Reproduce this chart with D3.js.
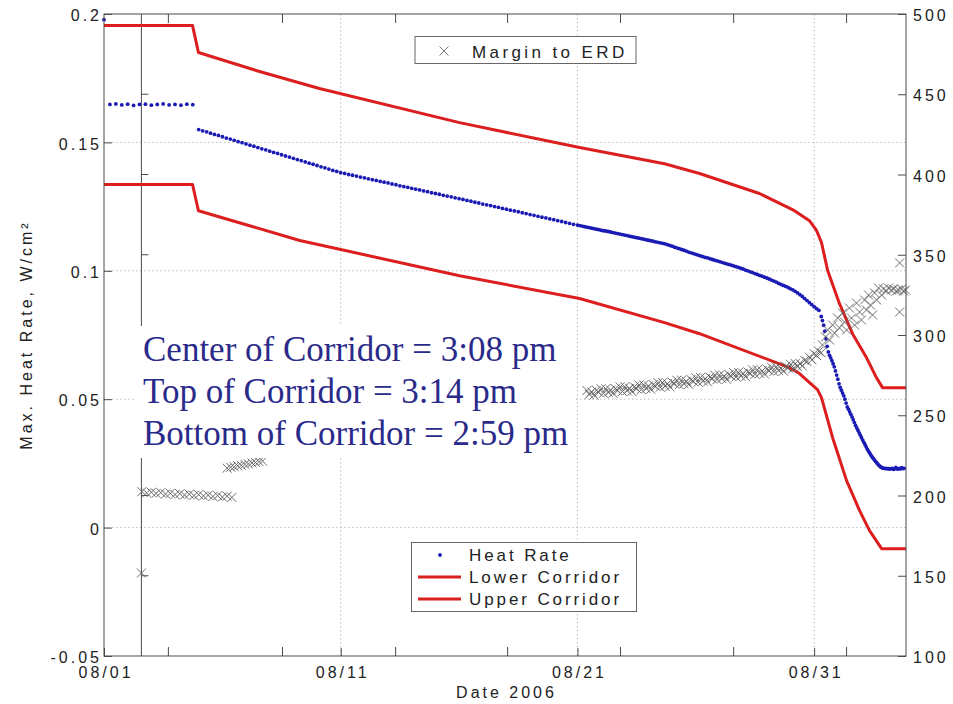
<!DOCTYPE html>
<html><head><meta charset="utf-8">
<script src="https://cdn.jsdelivr.net/npm/d3@7"></script>
<style>
body{margin:0;background:#fff}
svg{display:block}
text{font-family:"Liberation Sans",Arial,Helvetica,sans-serif}
</style>
</head><body>
<svg id="chart" width="953" height="704"></svg>
<script>
// ---------------- DATA ----------------
const dateTickDays = [0, 10, 20, 30];
const dateTickLabels = ["08/01", "08/11", "08/21", "08/31"];
const domainEndDay = 33.88;
const leftTicks = [-0.05, 0, 0.05, 0.1, 0.15, 0.2];
const leftTickLabels = ["-0.05", "0", "0.05", "0.1", "0.15", "0.2"];
const rightTicks = [100, 150, 200, 250, 300, 350, 400, 450, 500];
const erdTickDays = [2.72, 7.54, 12.32, 17.05, 21.82, 26.6, 31.37];
const erdAxisStartDay = 1.58;

// Heat rate (W/cm^2), sampled segments
const heatRateStartA = 0, heatRateStepA = 0.25;
const heatRateA = [0.1978,0.1648,0.1650,0.1646,0.1649,0.1644,0.1648,0.1649,0.1645,0.1648,0.1650,0.1646,0.1648,0.1645,0.1649,0.1647];
const heatRateStartB = 4.0, heatRateStepB = 1/6;
const heatRateB = [0.1550,0.1545,0.1541,0.1536,0.1531,0.1527,0.1522,0.1517,0.1513,0.1508,0.1503,0.1499,0.1494,0.1489,0.1485,0.1480,0.1475,0.1471,0.1466,0.1461,0.1457,0.1452,0.1447,0.1443,0.1438,0.1433,0.1429,0.1424,0.1419,0.1415,0.1410,0.1405,0.1401,0.1396,0.1391,0.1387,0.1382,
0.1379,0.1375,0.1372,0.1369,0.1365,0.1362,0.1358,0.1355,0.1352,0.1348,0.1345,0.1342,0.1338,0.1335,0.1331,0.1328,0.1325,0.1321,0.1318,0.1315,0.1311,0.1308,0.1304,0.1301,0.1298,0.1294,0.1291,0.1288,0.1284,0.1281,
0.1278,0.1274,0.1271,0.1267,0.1264,0.1260,0.1257,0.1254,0.1250,0.1247,0.1243,0.1240,0.1236,0.1233,0.1230,0.1226,0.1223,0.1219,0.1216,0.1212,0.1209,0.1206,0.1202,0.1199,0.1195,0.1192,0.1188,0.1185,0.1181,0.1178];
const heatRateStartC = 20.1, heatRateStepC = 0.1;
const heatRateC = [0.1176,0.1174,0.1172,0.1170,0.1168,0.1166,0.1164,0.1162,0.1160,0.1158,
0.1156,0.1155,0.1153,0.1151,0.1149,0.1147,0.1145,0.1143,0.1141,0.1139,
0.1137,0.1135,0.1133,0.1131,0.1129,0.1127,0.1125,0.1123,0.1121,0.1119,
0.1117,0.1115,0.1113,0.1111,0.1109,0.1107,0.1105,0.1102,0.1099,0.1096,
0.1092,0.1089,0.1086,0.1083,0.1080,0.1077,0.1073,0.1070,0.1067,0.1064,
0.1061,0.1058,0.1055,0.1052,0.1050,0.1047,0.1044,0.1041,0.1039,0.1036,
0.1033,0.1030,0.1027,0.1025,0.1022,0.1019,0.1016,0.1013,0.1010,0.1007,
0.1003,0.1000,0.0996,0.0993,0.0989,0.0986,0.0982,0.0979,0.0975,0.0972,
0.0968,0.0964,0.0960,0.0956,0.0951,0.0947,0.0943,0.0939,0.0935,0.0930,
0.0926,0.0920,0.0914,0.0907,0.0900,0.0892,0.0884,0.0876,0.0868,0.0860,
0.0853,0.0846];
const heatRateStartD = 30.3, heatRateStepD = 0.05;
const heatRateD = [0.0822,0.0806,0.0788,0.0765,0.0735,0.0706,0.0684,0.0671,0.0661,0.0650,
0.0638,0.0626,0.0610,0.0594,0.0578,0.0560,0.0546,0.0535,0.0524,0.0513,
0.0500,0.0485,0.0470,0.0461,0.0451,0.0441,0.0431,0.0420,0.0409,0.0398,
0.0388,0.0379,0.0369,0.0360,0.0350,0.0341,0.0332,0.0323,0.0314,0.0305,
0.0297,0.0290,0.0282,0.0275,0.0269,0.0263,0.0257,0.0252,0.0246,0.0241,
0.0237,0.0234,0.0232,0.0231,0.0230,0.0231,0.0229,0.0230,0.0228,0.0230,
0.0231,0.0227,0.0229,0.0234,0.0229,0.0228,0.0231,0.0229,0.0233,0.0230,0.0231];

// Corridors (W/cm^2)
const upperCorridorDays = [0,3.74,3.99,6.57,9.10,15.02,20.09,23.68,25.16,27.69,29.17,29.80,30.10,30.31,30.57,31.07,31.62,32.21,32.63,32.89,33.88];
const upperCorridorValues = [0.1955,0.1955,0.1850,0.1776,0.1710,0.1577,0.1480,0.1417,0.1379,0.1301,0.1234,0.1195,0.1157,0.1110,0.1001,0.0872,0.0755,0.0662,0.0584,0.0545,0.0545];
const lowerCorridorDays = [0,3.74,3.99,8.27,15.02,20.09,23.68,25.16,28.96,29.38,30.14,30.31,30.78,31.37,31.92,32.34,32.85,33.88];
const lowerCorridorValues = [0.1336,0.1336,0.1234,0.1118,0.0981,0.0892,0.0798,0.0755,0.0623,0.0600,0.0537,0.0506,0.0350,0.0183,0.0066,-0.0012,-0.0082,-0.0082];

// Margin to ERD (right axis)
const erdStart0 = 1.58, erdStep0 = 0.1;
const erd0 = [151.7];
const erdStart1 = 1.6, erdStep1 = 0.2;
const erd1 = [202.4,201.6,202.0,201.3,201.8,200.9,201.4,200.6,201.1,200.3,200.8,200.0,200.5,199.7,200.2,199.4,199.9,199.0,199.6,198.8];
const erdStart2 = 5.2, erdStep2 = 0.15;
const erd2 = [217.0,217.6,217.9,218.5,218.8,219.4,219.7,220.3,220.6,221.1,221.4];
const erdStart3 = 20.4, erdStep3 = 0.1;
const erd3 = [265.4,263.0,264.6,262.5,265.5,264.3,266.5,263.7,266.5,264.2,
265.7,263.7,266.6,265.4,267.7,264.8,267.7,265.3,266.8,264.8,
267.7,266.6,268.8,266.0,268.9,266.6,268.2,266.2,269.1,268.0,
270.3,267.5,270.4,268.1,269.7,267.7,270.7,269.6,271.8,269.0,
271.9,269.6,271.2,269.2,272.2,271.1,273.4,270.6,273.5,271.2,
272.8,270.8,273.8,272.7,275.0,272.2,275.1,272.8,274.4,272.4,
275.4,274.3,276.6,273.8,276.7,274.4,276.0,274.0,277.0,276.0,
278.3,275.5,278.4,276.1,277.7,275.7,278.8,277.7,280.0,277.2,
280.1,277.8,279.4,277.5,280.5,279.4,281.7,278.9,282.2,280.3,
282.3,280.7,284.2,283.5,286.2,284.5,288.4,287.2,289.8,288.9];
const erdScatterDays = [30.35,30.48,30.57,30.65,30.78,30.86,30.99,31.07,31.20,31.28,31.37,31.49,31.58,31.71,31.79,31.92,32.00,32.13,32.21,32.30,32.38,32.47,32.55,32.64,32.72,32.85,32.93,33.06,33.14,33.27,33.35,33.48,33.56,33.69,33.77,33.86,33.61,33.61];
const erdScatterValues = [293.8,298.8,303.1,296.9,306.2,301.2,310.6,304.4,313.7,308.1,303.1,316.8,310.6,306.2,319.9,314.3,309.3,321.8,315.6,324.9,318.7,312.5,326.2,321.8,329.3,324.9,328.7,327.4,329.3,328.0,328.7,327.4,328.0,328.7,327.4,328.0,344.9,314.3];

const annotationLines = ["Center of Corridor = 3:08 pm", "Top of Corridor = 3:14 pm", "Bottom of Corridor = 2:59 pm"];

// ---------------- CHART ----------------
const baseMs = Date.UTC(2006, 7, 1);
const toDate = d => new Date(baseMs + d * 86400000);
const svg = d3.select("#chart");
const M = {left: 104, right: 906, top: 14, bottom: 656};
const x = d3.scaleUtc().domain([toDate(0), toDate(domainEndDay)]).range([M.left, M.right]);
const yL = d3.scaleLinear().domain([-0.05, 0.2]).range([M.bottom, M.top]);
const yR = d3.scaleLinear().domain([100, 500]).range([M.bottom, M.top]);
const expand = (start, step, vals) => vals.map((v, i) => ({d: start + i * step, v}));

const RED = "#dc1e1e", BLUE = "#1a1ab4", GRAY = "#5e5e5e", AX = "#4a4a4a";
const TXT = "#222";

svg.append("rect").attr("width", 953).attr("height", 704).attr("fill", "#fff");

// grid
const grid = svg.append("g").attr("stroke", "#bdbdbd").attr("stroke-dasharray", "1.5,2.5").attr("stroke-width", 1);
grid.selectAll("line.h").data(leftTicks.filter(t => t > -0.05 && t < 0.2)).join("line")
  .attr("x1", M.left).attr("x2", M.right).attr("y1", d => yL(d)).attr("y2", d => yL(d));
grid.selectAll("line.v").data(dateTickDays.filter(t => t > 0)).join("line")
  .attr("y1", M.top).attr("y2", M.bottom).attr("x1", d => x(toDate(d))).attr("x2", d => x(toDate(d)));

// secondary axis line with ticks
const ex = x(toDate(erdAxisStartDay));
const eg = svg.append("g").attr("stroke", AX).attr("stroke-width", 1);
eg.append("line").attr("x1", ex).attr("x2", ex).attr("y1", M.top).attr("y2", M.bottom);
eg.selectAll("line.t").data(rightTicks.filter(t => t > 100 && t < 500)).join("line")
  .attr("x1", ex).attr("x2", ex + 7).attr("y1", d => yR(d)).attr("y2", d => yR(d));

// corridors
const lineL = d3.line().x(p => x(toDate(p.d))).y(p => yL(p.v));
const upperPts = upperCorridorDays.map((d, i) => ({d, v: upperCorridorValues[i]}));
const lowerPts = lowerCorridorDays.map((d, i) => ({d, v: lowerCorridorValues[i]}));
[upperPts, lowerPts].forEach(pts => {
  svg.append("path").attr("d", lineL(pts)).attr("fill", "none").attr("stroke", RED)
    .attr("stroke-width", 3).attr("stroke-linejoin", "round");
});

// heat rate dots
const hr = [].concat(
  expand(heatRateStartA, heatRateStepA, heatRateA),
  expand(heatRateStartB, heatRateStepB, heatRateB),
  expand(heatRateStartC, heatRateStepC, heatRateC),
  expand(heatRateStartD, heatRateStepD, heatRateD));
svg.append("g").selectAll("circle").data(hr).join("circle")
  .attr("cx", p => x(toDate(p.d))).attr("cy", p => yL(p.v)).attr("r", 1.9).attr("fill", BLUE);

// margin to ERD markers
const erd = [].concat(
  expand(erdStart0, erdStep0, erd0),
  expand(erdStart1, erdStep1, erd1),
  expand(erdStart2, erdStep2, erd2),
  expand(erdStart3, erdStep3, erd3),
  erdScatterDays.map((d, i) => ({d, v: erdScatterValues[i]})));
const cross = "M-4.5,-4.5L4.5,4.5M-4.5,4.5L4.5,-4.5";
svg.append("g").selectAll("path").data(erd).join("path")
  .attr("d", cross).attr("transform", p => `translate(${x(toDate(p.d))},${yR(p.v)})`)
  .attr("stroke", GRAY).attr("stroke-width", 0.9).attr("fill", "none");

// annotation
svg.append("rect").attr("x", 136).attr("y", 326).attr("width", 440).attr("height", 132).attr("fill", "#fff");
svg.append("g").selectAll("text").data(annotationLines).join("text")
  .attr("x", 143).attr("y", (d, i) => 361 + i * 42)
  .style("font-family", "'Liberation Serif','Times New Roman',serif")
  .attr("font-size", 35).attr("fill", "#2a2a8a").text(d => d);

// legend top
const lg1 = svg.append("g");
lg1.append("rect").attr("x", 415).attr("y", 36.5).attr("width", 221).attr("height", 27)
  .attr("fill", "#fff").attr("stroke", "#666");
lg1.append("path").attr("d", cross).attr("transform", "translate(444,51)").attr("stroke", "#777").attr("stroke-width", 1).attr("fill", "none");
lg1.append("text").attr("x", 472).attr("y", 57.5).attr("font-size", 17).attr("letter-spacing", 3.4).attr("fill", TXT).text("Margin to ERD");

// legend bottom
const lg2 = svg.append("g");
lg2.append("rect").attr("x", 411.5).attr("y", 542.5).attr("width", 225).attr("height", 69)
  .attr("fill", "#fff").attr("stroke", "#666");
lg2.append("circle").attr("cx", 440).attr("cy", 555).attr("r", 1.9).attr("fill", BLUE);
lg2.append("line").attr("x1", 418).attr("x2", 461).attr("y1", 577).attr("y2", 577).attr("stroke", RED).attr("stroke-width", 3);
lg2.append("line").attr("x1", 418).attr("x2", 461).attr("y1", 599).attr("y2", 599).attr("stroke", RED).attr("stroke-width", 3);
const lgLabels = ["Heat Rate", "Lower Corridor", "Upper Corridor"];
lg2.selectAll("text").data(lgLabels).join("text")
  .attr("x", 469).attr("y", (d, i) => 561 + i * 22).attr("font-size", 17).attr("letter-spacing", 2.9).attr("fill", TXT).text(d => d);

// axes
function styleAxis(g) {
  g.select(".domain").remove();
  g.selectAll(".tick line").attr("stroke", AX);
  g.selectAll(".tick text").attr("fill", TXT).attr("font-size", 16).attr("letter-spacing", 3)
    .style("font-family", "'Liberation Sans',Arial,sans-serif");
}
const axL = svg.append("g").attr("transform", `translate(${M.left},0)`)
  .call(d3.axisLeft(yL).tickValues(leftTicks).tickFormat((d, i) => leftTickLabels[i]).tickSize(-8).tickPadding(2));
styleAxis(axL); axL.selectAll(".tick text").attr("dy", "0.42em");
const axR = svg.append("g").attr("transform", `translate(${M.right},0)`)
  .call(d3.axisRight(yR).tickValues(rightTicks).tickSize(-8).tickPadding(7));
styleAxis(axR); axR.selectAll(".tick text").attr("dy", "0.42em");
const axB = svg.append("g").attr("transform", `translate(0,${M.bottom})`)
  .call(d3.axisBottom(x).tickValues(dateTickDays.map(toDate)).tickFormat((d, i) => dateTickLabels[i]).tickSize(-8).tickPadding(11));
styleAxis(axB); axB.selectAll(".tick text").attr("dx", 1.5);

// secondary x ticks (top & bottom)
const st = svg.append("g").attr("stroke", AX);
erdTickDays.forEach(d => {
  const xx = x(toDate(d));
  st.append("line").attr("x1", xx).attr("x2", xx).attr("y1", M.bottom).attr("y2", M.bottom - 9);
  st.append("line").attr("x1", xx).attr("x2", xx).attr("y1", M.top).attr("y2", M.top + 9);
});

// box
svg.append("rect").attr("x", M.left).attr("y", M.top).attr("width", M.right - M.left).attr("height", M.bottom - M.top)
  .attr("fill", "none").attr("stroke", AX).attr("stroke-width", 1);

// axis titles
svg.append("text").attr("x", (M.left + M.right) / 2 + 1.5).attr("y", 698).attr("text-anchor", "middle")
  .attr("font-size", 16).attr("letter-spacing", 3).attr("fill", TXT).text("Date 2006");
svg.append("text").attr("transform", `translate(32,${(M.top + M.bottom) / 2}) rotate(-90)`).attr("text-anchor", "middle")
  .attr("font-size", 16).attr("letter-spacing", 3).attr("fill", TXT).text("Max. Heat Rate, W/cm²");
</script>
</body></html>
